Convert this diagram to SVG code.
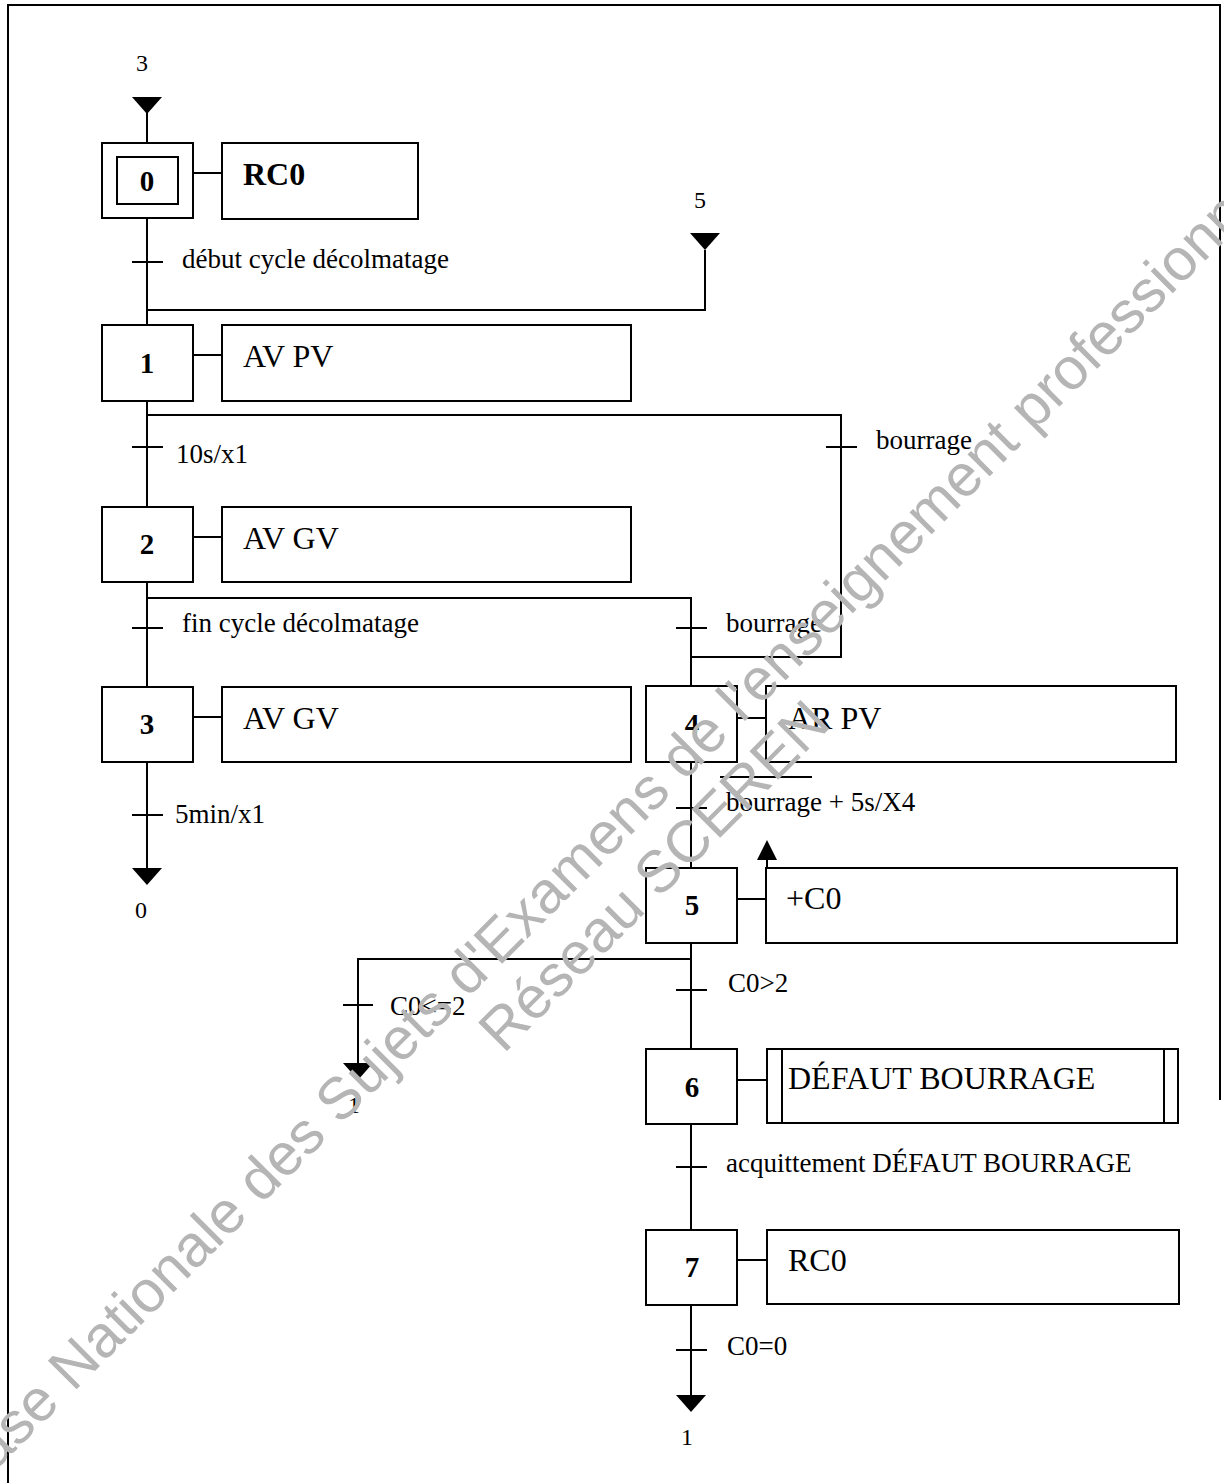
<svg xmlns="http://www.w3.org/2000/svg" width="1224" height="1483" viewBox="0 0 1224 1483">
<style>
.ln{stroke:#000;stroke-width:2;fill:none}
.box{stroke:#000;stroke-width:2;fill:#fff}
.num{font-family:"Liberation Serif",serif;font-weight:bold;font-size:29px;text-anchor:middle}
.act{font-family:"Liberation Serif",serif;font-size:32px}
.tr{font-family:"Liberation Serif",serif;font-size:27px}
.lbl{font-family:"Liberation Serif",serif;font-size:24px;text-anchor:middle}
.wm{font-family:"Liberation Sans",Arial,sans-serif;font-size:59px;fill:#b5b5b5;text-anchor:middle}
</style>
<defs>
<path id="tri" d="M-15,0 L15,0 L0,17 Z" fill="#000"/>
</defs>
<rect width="1224" height="1483" fill="#fff"/>
<path class="ln" d="M8,1483 L8,5 L1220,5 L1220,1100"/>

<g id="connectors">
<path class="ln" d="M147,112 L147,143"/>
<use href="#tri" x="147" y="97"/>
<path class="ln" d="M147,218 L147,325"/>
<path class="ln" d="M132,262 L163,262"/>
<path class="ln" d="M147,310 L705,310 L705,250"/>
<use href="#tri" x="705" y="233"/>
<path class="ln" d="M147,401 L147,507"/>
<path class="ln" d="M147,415 L841,415 L841,657 L691,657"/>
<path class="ln" d="M132,447 L163,447"/>
<path class="ln" d="M826,447 L857,447"/>
<path class="ln" d="M147,582 L147,687"/>
<path class="ln" d="M147,598 L691,598 L691,686"/>
<path class="ln" d="M132,628 L163,628"/>
<path class="ln" d="M676,628 L707,628"/>
<path class="ln" d="M147,762 L147,870"/>
<path class="ln" d="M132,815 L163,815"/>
<use href="#tri" x="147" y="868"/>
<path class="ln" d="M691,762 L691,868"/>
<path class="ln" d="M676,808 L707,808"/>
<path class="ln" d="M720,777 L812,777"/>
<path class="ln" d="M691,943 L691,1049"/>
<path class="ln" d="M691,959 L358,959 L358,1065"/>
<path class="ln" d="M676,990 L707,990"/>
<path class="ln" d="M343,1005 L373,1005"/>
<use href="#tri" x="358" y="1063"/>
<path class="ln" d="M691,1124 L691,1230"/>
<path class="ln" d="M676,1167 L707,1167"/>
<path class="ln" d="M691,1305 L691,1397"/>
<path class="ln" d="M676,1350 L707,1350"/>
<use href="#tri" x="691" y="1395"/>
<path class="ln" d="M193,173 L222,173"/>
<path class="ln" d="M193,355 L222,355"/>
<path class="ln" d="M193,537 L222,537"/>
<path class="ln" d="M193,717 L222,717"/>
<path class="ln" d="M737,718 L766,718"/>
<path class="ln" d="M737,899 L766,899"/>
<path class="ln" d="M737,1080 L767,1080"/>
<path class="ln" d="M737,1260 L767,1260"/>
<path class="ln" d="M767,858 L767,868"/>
<path d="M757,860 L777,860 L767,840 Z" fill="#000"/>
</g>

<g id="labels">
<text class="lbl" x="142" y="71">3</text>
<text class="lbl" x="700" y="208">5</text>
<text class="lbl" x="141" y="918">0</text>
<text class="lbl" x="354" y="1113">1</text>
<text class="lbl" x="687" y="1445">1</text>
<text class="tr" x="182" y="268">début cycle décolmatage</text>
<text class="tr" x="176" y="463">10s/x1</text>
<text class="tr" x="876" y="449">bourrage</text>
<text class="tr" x="182" y="632">fin cycle décolmatage</text>
<text class="tr" x="726" y="632">bourrage</text>
<text class="tr" x="175" y="823">5min/x1</text>
<text class="tr" x="726" y="811">bourrage + 5s/X4</text>
<text class="tr" x="728" y="992">C0&gt;2</text>
<text class="tr" x="390" y="1015">C0&lt;=2</text>
<text class="tr" x="726" y="1172">acquittement DÉFAUT BOURRAGE</text>
<text class="tr" x="727" y="1355">C0=0</text>
</g>

<g id="step0">
<rect class="box" x="102" y="143" width="91" height="75"/>
<rect class="box" x="117" y="157" width="61" height="47"/>
<text class="num" x="147" y="191">0</text>
</g>
<g id="action0">
<rect class="box" x="222" y="143" width="196" height="76"/>
<text class="act" x="243" y="185" font-weight="bold" font-size="30">RC0</text>
</g>
<g id="step1">
<rect class="box" x="102" y="325" width="91" height="76"/>
<text class="num" x="147" y="373">1</text>
</g>
<g id="action1">
<rect class="box" x="222" y="325" width="409" height="76"/>
<text class="act" x="243" y="367">AV PV</text>
</g>
<g id="step2">
<rect class="box" x="102" y="507" width="91" height="75"/>
<text class="num" x="147" y="554">2</text>
</g>
<g id="action2">
<rect class="box" x="222" y="507" width="409" height="75"/>
<text class="act" x="243" y="549">AV GV</text>
</g>
<g id="step3">
<rect class="box" x="102" y="687" width="91" height="75"/>
<text class="num" x="147" y="734">3</text>
</g>
<g id="action3">
<rect class="box" x="222" y="687" width="409" height="75"/>
<text class="act" x="243" y="729">AV GV</text>
</g>
<g id="step4">
<rect class="box" x="646" y="686" width="91" height="76"/>
<text class="num" x="692" y="734">4</text>
</g>
<g id="action4">
<rect class="box" x="766" y="686" width="410" height="76"/>
<text class="act" x="788" y="729">AR PV</text>
</g>
<g id="step5">
<rect class="box" x="646" y="868" width="91" height="75"/>
<text class="num" x="692" y="915">5</text>
</g>
<g id="action5">
<rect class="box" x="766" y="868" width="411" height="75"/>
<text class="act" x="786" y="909">+C0</text>
</g>
<g id="step6">
<rect class="box" x="646" y="1049" width="91" height="75"/>
<text class="num" x="692" y="1097">6</text>
</g>
<g id="action6">
<rect class="box" x="767" y="1049" width="411" height="74"/>
<path class="ln" d="M782,1049 L782,1123 M1164,1049 L1164,1123"/>
<text class="act" x="788" y="1089">DÉFAUT BOURRAGE</text>
</g>
<g id="step7">
<rect class="box" x="646" y="1230" width="91" height="75"/>
<text class="num" x="692" y="1277">7</text>
</g>
<g id="action7">
<rect class="box" x="767" y="1230" width="412" height="74"/>
<text class="act" x="788" y="1271">RC0</text>
</g>

<g id="watermark">
<text class="wm" transform="translate(624,842) rotate(-45)">Base Nationale des Sujets d'Examens de l'enseignement professionnel</text>
<text class="wm" transform="translate(668,890) rotate(-45)">Réseau SCEREN</text>
</g>
</svg>
